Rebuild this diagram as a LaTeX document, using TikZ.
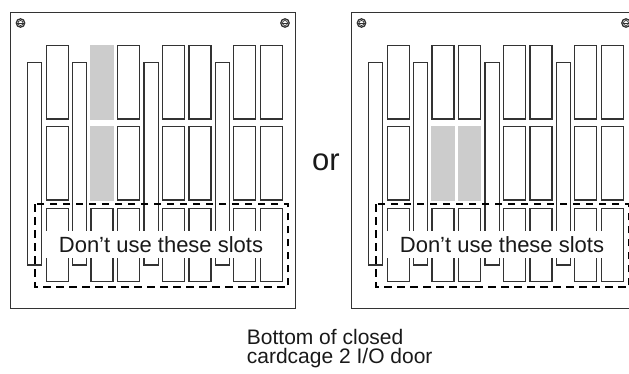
\documentclass[tikz,border=0pt]{standalone}
\usepackage{fontspec}
\setmainfont{Liberation Sans}
\definecolor{slotgray}{HTML}{CCCCCC}
\definecolor{ink}{HTML}{333333}
\begin{document}
\begin{tikzpicture}[x=1pt,y=-1pt,
  slot/.style={draw=ink, line width=1.2pt},
  grayslot/.style={fill=slotgray, draw=none},
  frame/.style={draw=ink, line width=0.9pt},
  screw/.style={draw=ink},
  keepout/.style={draw=black, line width=2.3pt, dash pattern=on 7.5pt off 5.5pt},
  lbl/.style={font=\fontsize{22}{26}\selectfont, text=black!90},
  orstyle/.style={font=\fontsize{31}{36}\selectfont, text=black!90, inner sep=0pt},
  capt/.style={font=\fontsize{21}{19}\selectfont, text=black!90, inner sep=0pt}]
\useasboundingbox (0,0) rectangle (629,373);
\clip (0,0) rectangle (629,373);
\foreach \dx in {0,341} {
  \begin{scope}[xshift=\dx pt]
    \draw[frame] (10.5,12.5) rectangle (295.5,308);
    \foreach \sx in {20.5,285} {
      \draw[screw, line width=1.3pt] (\sx,23) circle (4.2);
      \draw[screw, line width=0.7pt] (\sx,23) circle (2.5);
      \draw[screw, line width=0.8pt] (\sx,23) ++(-3.4,0) -- ++(6.8,0);
    }
    \foreach \tx in {27.3,72.3,144,215.3}
      \draw[slot] (\tx,62.7) rectangle ++(14.5,202.3);
    \foreach \cx in {46.3,91,117.3,162.3,189,233.3,260.3}
      \foreach \ry in {45.7,126.7,208.3}
        \draw[slot] (\cx,\ry) rectangle ++(22,73.3);
  \end{scope}
}
% grey (in use) slots
\fill[grayslot] (90.4,45.1) rectangle ++(23.2,74.5);
\fill[grayslot] (90.4,126.1) rectangle ++(23.2,74.5);
\fill[grayslot] (431.4,126.1) rectangle ++(23.2,74.5);
\fill[grayslot] (457.7,126.1) rectangle ++(23.2,74.5);
% notes and keep-out boxes
\node[lbl, fill=white, minimum width=234pt, minimum height=27pt, inner sep=0pt] (noteL) at (161,244.5) {Don’t use these slots};
\node[lbl, fill=white, minimum width=234pt, minimum height=27pt, inner sep=0pt] (noteR) at (502,244.5) {Don’t use these slots};
\draw[keepout] (35,204.3) rectangle (288,287.3);
\draw[keepout] (376,204.3) rectangle (629,287.3);
\node[orstyle, anchor=base] (orlbl) at (326,170) {or};
\node[capt, anchor=base west] (cap1) at (246.7,344) {Bottom of closed};
\node[capt, anchor=base west] (cap2) at (246.7,363) {cardcage 2 I/O door};
\end{tikzpicture}
\end{document}
